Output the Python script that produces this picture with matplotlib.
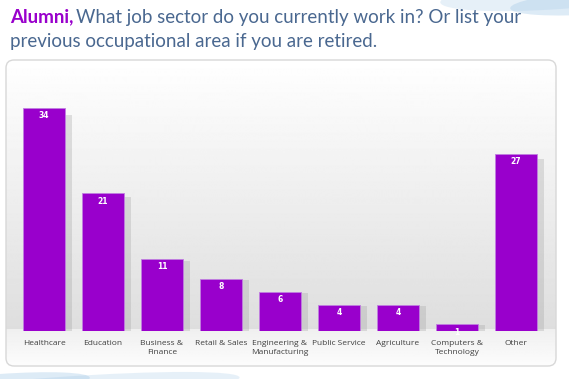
import numpy as np
import matplotlib
matplotlib.use("Agg")
import matplotlib.pyplot as plt
from matplotlib.patches import FancyBboxPatch, Ellipse

categories = ["Healthcare", "Education", "Business &\nFinance", "Retail & Sales",
              "Engineering &\nManufacturing", "Public Service", "Agriculture",
              "Computers &\nTechnology", "Other"]
values = [34, 21, 11, 8, 6, 4, 4, 1, 27]

W, H = 569, 379
fig = plt.figure(figsize=(W / 100, H / 100), dpi=100)
fig.patch.set_facecolor("white")

# background swooshes
bg = fig.add_axes([0, 0, 1, 1])
bg.set_xlim(0, W)
bg.set_ylim(H, 0)
bg.axis("off")
for cx, cy, w, h, a in [(560, -6, 240, 30, 0.25), (600, 2, 180, 24, 0.35),
                        (60, 390, 360, 26, 0.25), (0, 384, 180, 20, 0.35)]:
    bg.add_patch(Ellipse((cx, cy), w, h, angle=-4, color="#9fc6e6", alpha=a, lw=0))

# panel with gradient
px0, py0, px1, py1 = 6, 60, 556, 366
panel = FancyBboxPatch((px0, py0), px1 - px0, py1 - py0,
                       boxstyle="round,pad=0,rounding_size=8",
                       facecolor="none", edgecolor="#d8d8d8", lw=1, zorder=3)
bg.add_patch(panel)
grad = np.concatenate([np.linspace(1.0, 0.87, 270), np.linspace(0.94, 0.99, 37)])
img = bg.imshow(np.tile(grad[:, None], (1, 2)), cmap="gray", vmin=0, vmax=1,
                extent=(px0, px1, py1, py0), aspect="auto", zorder=1)
clip = FancyBboxPatch((px0, py0), px1 - px0, py1 - py0,
                      boxstyle="round,pad=0,rounding_size=8", transform=bg.transData)
img.set_clip_path(clip)

# title
tfont = "Lato"
t1 = fig.text(10 / W, 1 - 17 / H, "Alumni,", fontsize=13.5, fontweight="bold",
              color="#9900cc", family=tfont, va="center")
fig.canvas.draw()
bb = t1.get_window_extent()
fig.text(bb.x1 / W + 0.004, 1 - 17 / H, "What job sector do you currently work in? Or list your",
         fontsize=13.5, color="#4a6890", family=tfont, va="center")
fig.text(10 / W, 1 - 41 / H, "previous occupational area if you are retired.",
         fontsize=13.5, color="#4a6890", family=tfont, va="center")

# bars
ax = fig.add_axes([14.5 / W, 1 - 331 / H, 531 / W, 231 / H])
ax.set_xlim(-0.5, len(values) - 0.5)
ax.set_ylim(0, 35.2)
ax.axis("off")
x = np.arange(len(values))
ax.bar(x + 0.12, np.array(values) * 0.97, width=0.72, color="#a0a0a0", alpha=0.3,
       zorder=1, align="center")
ax.bar(x, values, width=0.71, color="#9900cc", edgecolor="#c080e0", lw=0.6, zorder=2)
for xi, v in zip(x, values):
    ax.text(xi, v - 1.2, str(v), ha="center", va="center", color="white",
            fontsize=5.5, fontweight="bold", zorder=3)
for xi, c in zip(x, categories):
    ax.text(xi, -1.4, c, ha="center", va="top", fontsize=6, color="#404040",
            family="Open Sans", linespacing=1.3, clip_on=False)

fig.savefig("out.png", dpi=100)
